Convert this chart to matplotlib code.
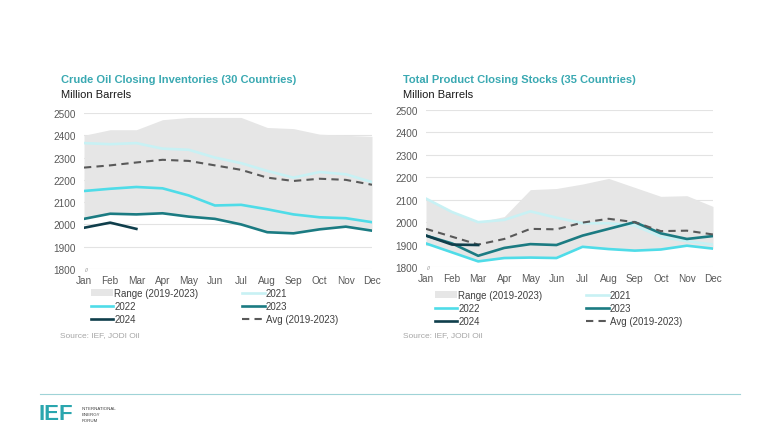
import matplotlib
matplotlib.use("Agg")
import matplotlib.pyplot as plt
from matplotlib.patches import Patch
from matplotlib.lines import Line2D

plt.rcParams['font.family'] = ['Liberation Sans', 'DejaVu Sans']

months = ['Jan', 'Feb', 'Mar', 'Apr', 'May', 'Jun', 'Jul', 'Aug', 'Sep', 'Oct', 'Nov', 'Dec']

# crude oil closing inventories (30 countries), million barrels
crude_range_hi = [2400, 2425, 2425, 2470, 2480, 2480, 2480, 2435, 2430, 2405, 2400, 2395]
crude_range_lo = [2025, 2048, 2045, 2050, 2035, 2025, 2000, 1965, 1960, 1978, 1990, 1972]
crude_2021 = [2365, 2360, 2365, 2340, 2335, 2300, 2275, 2240, 2210, 2235, 2225, 2190]
crude_2022 = [2150, 2160, 2168, 2162, 2130, 2085, 2088, 2068, 2045, 2032, 2028, 2010]
crude_2023 = [2025, 2048, 2045, 2050, 2035, 2025, 2000, 1965, 1960, 1978, 1990, 1972]
crude_2024 = [1985, 2008, 1980]
crude_avg = [2255, 2265, 2278, 2290, 2285, 2265, 2245, 2210, 2195, 2205, 2200, 2178]

# total product closing stocks (35 countries), million barrels
prod_range_hi = [2105, 2045, 2000, 2025, 2145, 2150, 2170, 2195, 2155, 2115, 2118, 2070]
prod_range_lo = [1905, 1865, 1825, 1840, 1842, 1840, 1890, 1880, 1873, 1878, 1895, 1882]
prod_2021 = [2105, 2045, 2000, 2010, 2048, 2020, 1995, 1995, 1985, 1935, 1915, 1900]
prod_2022 = [1905, 1865, 1825, 1840, 1842, 1840, 1890, 1880, 1873, 1878, 1895, 1882]
prod_2023 = [1940, 1905, 1850, 1885, 1902, 1898, 1940, 1970, 2000, 1950, 1925, 1938]
prod_2024 = [1940, 1900, 1898]
prod_avg = [1970, 1935, 1900, 1925, 1970, 1968, 1998, 2015, 2000, 1960, 1962, 1945]

c_range = '#E6E6E6'
c21 = '#C8F1F4'
c22 = '#4FDCE8'
c23 = '#1B7B82'
c24 = '#0F3E4B'
c_avg = '#595959'
c_title = '#3AA9B2'
c_tick = '#595959'
lw_line = 1.9

W, H = 780, 439
fig = plt.figure(figsize=(W / 100, H / 100), dpi=100)


def px_axes(x0, x1, ytop, ybot):
    return fig.add_axes([x0 / W, 1 - ybot / H, (x1 - x0) / W, (ybot - ytop) / H])


def draw(ax, hi, lo, s21, s22, s23, s24, avg):
    x = list(range(12))
    ax.fill_between(x, lo, hi, color=c_range, lw=0, zorder=1)
    ax.plot(x, s21, color=c21, lw=lw_line, zorder=3, solid_joinstyle='round')
    ax.plot(x, s22, color=c22, lw=lw_line, zorder=4, solid_joinstyle='round')
    ax.plot(x, s23, color=c23, lw=lw_line, zorder=5, solid_joinstyle='round')
    ax.plot(x[:len(s24)], s24, color=c24, lw=lw_line, zorder=6, solid_joinstyle='round')
    ax.plot(x, avg, color=c_avg, lw=1.5, ls=(0, (3.5, 2.5)), zorder=5)
    ax.set_xlim(0, 11)
    ax.set_ylim(1800, 2500)
    ax.set_yticks(range(1800, 2501, 100))
    ax.set_xticks(x)
    ax.set_xticklabels(months)
    ax.grid(axis='y', color='#E3E3E3', lw=0.8, zorder=0)
    ax.set_axisbelow(True)
    for s in ax.spines.values():
        s.set_visible(False)
    ax.tick_params(axis='both', length=0, labelsize=7.2, colors=c_tick)
    ax.tick_params(axis='y', pad=6)
    ax.tick_params(axis='x', pad=4)
    ax.text(0.1, 1800, '//', fontsize=4, color='#808080', ha='center', va='center', zorder=7)


def legend(ax, xpx, ypx):
    h = [Patch(facecolor=c_range, edgecolor='none'),
         Line2D([], [], color=c22, lw=lw_line),
         Line2D([], [], color=c24, lw=lw_line),
         Line2D([], [], color=c21, lw=lw_line),
         Line2D([], [], color=c23, lw=lw_line),
         Line2D([], [], color=c_avg, lw=1.5, ls=(0, (3.5, 2.5)))]
    labels = ['Range (2019-2023)', '2022', '2024', '2021', '2023', 'Avg (2019-2023)']
    fig.legend(h, labels, ncol=2, loc='upper left', bbox_to_anchor=(xpx / W, 1 - ypx / H),
               frameon=False, fontsize=7, handlelength=2.3, handleheight=0.6, handletextpad=0.1,
               columnspacing=4.5, labelspacing=0.3, borderpad=0, borderaxespad=0,
               labelcolor='#404040')


ax1 = px_axes(84, 372, 114, 270)
draw(ax1, crude_range_hi, crude_range_lo, crude_2021, crude_2022, crude_2023, crude_2024, crude_avg)
ax2 = px_axes(426, 713, 111, 268)
draw(ax2, prod_range_hi, prod_range_lo, prod_2021, prod_2022, prod_2023, prod_2024, prod_avg)

fig.text(61 / W, 1 - 80 / H, 'Crude Oil Closing Inventories (30 Countries)', fontsize=8,
         fontweight='bold', color=c_title, va='center')
fig.text(61 / W, 1 - 95 / H, 'Million Barrels', fontsize=8, color='#1a1a1a', va='center')
fig.text(403 / W, 1 - 80 / H, 'Total Product Closing Stocks (35 Countries)', fontsize=8,
         fontweight='bold', color=c_title, va='center')
fig.text(403 / W, 1 - 95 / H, 'Million Barrels', fontsize=8, color='#1a1a1a', va='center')

legend(ax1, 91, 289)
legend(ax2, 435, 291)

fig.text(60 / W, 1 - 336 / H, 'Source: IEF, JODI Oil', fontsize=6, color='#A6A6A6', va='center')
fig.text(403 / W, 1 - 336 / H, 'Source: IEF, JODI Oil', fontsize=6, color='#A6A6A6', va='center')

# footer rule and logo
fig.add_artist(Line2D([40 / W, 740 / W], [1 - 395 / H, 1 - 395 / H], color='#9FD3D7', lw=0.8))
fig.text(39 / W, 1 - 415 / H, 'IEF', fontsize=16, fontweight='heavy', color='#2AA6AE', va='center')
fig.text(82 / W, 1 - 409 / H, 'INTERNATIONAL', fontsize=3.2, color='#404040', va='center')
fig.text(82 / W, 1 - 415 / H, 'ENERGY', fontsize=3.2, color='#404040', va='center')
fig.text(82 / W, 1 - 421 / H, 'FORUM', fontsize=3.2, color='#404040', va='center')

fig.savefig('out.png', dpi=100)
